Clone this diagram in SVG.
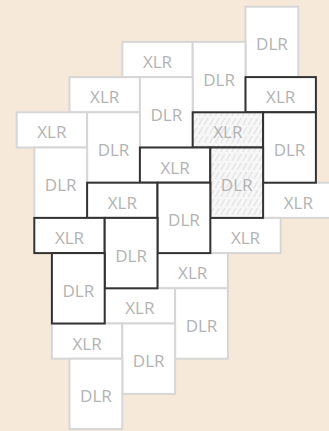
<svg xmlns="http://www.w3.org/2000/svg" width="329" height="431" viewBox="0 0 329 431">
<defs>
<pattern id="hatch" patternUnits="userSpaceOnUse" width="5.5" height="9">
<rect width="5.5" height="9" fill="#f7f7f7"/>
<path d="M0.7,8 L4.8,1" stroke="#dedede" stroke-width="1"/>
</pattern>
</defs>
<style>
.l{fill:#fff;stroke:#d6d6d6;stroke-width:2}
.d{fill:#fff;stroke:#333;stroke-width:2}
.h{fill:url(#hatch);stroke:#333;stroke-width:2}
text{font-family:"Open Sans","Liberation Sans",sans-serif;font-size:17px;fill:#b3b3b3;text-anchor:middle}
</style>
<rect width="329" height="431" fill="#f7e9da"/>
<g id="connectors"/>
<g id="n1"><rect class="l" x="245.5" y="6.7" width="52.8" height="70.4"/><text x="271.9" y="50.3">DLR</text></g>
<g id="n2"><rect class="l" x="122.3" y="41.9" width="70.4" height="35.2"/><text x="157.5" y="67.9">XLR</text></g>
<g id="n3"><rect class="l" x="192.7" y="41.9" width="52.8" height="70.4"/><text x="219.1" y="85.5">DLR</text></g>
<g id="n4"><rect class="l" x="69.5" y="77.1" width="70.4" height="35.2"/><text x="104.7" y="103.1">XLR</text></g>
<g id="n5"><rect class="l" x="139.9" y="77.1" width="52.8" height="70.4"/><text x="166.3" y="120.7">DLR</text></g>
<g id="n7"><rect class="l" x="16.7" y="112.3" width="70.4" height="35.2"/><text x="51.9" y="138.3">XLR</text></g>
<g id="n8"><rect class="l" x="87.1" y="112.3" width="52.8" height="70.4"/><text x="113.5" y="155.9">DLR</text></g>
<g id="n11"><rect class="l" x="34.3" y="147.5" width="52.8" height="70.4"/><text x="60.7" y="191.1">DLR</text></g>
<g id="n16"><rect class="l" x="263.1" y="182.7" width="70.4" height="35.2"/><text x="298.3" y="208.7">XLR</text></g>
<g id="n19"><rect class="l" x="210.3" y="217.9" width="70.4" height="35.2"/><text x="245.5" y="243.9">XLR</text></g>
<g id="n21"><rect class="l" x="157.5" y="253.1" width="70.4" height="35.2"/><text x="192.7" y="279.1">XLR</text></g>
<g id="n22"><rect class="l" x="104.7" y="288.3" width="70.4" height="35.2"/><text x="139.9" y="314.3">XLR</text></g>
<g id="n23"><rect class="l" x="175.1" y="288.3" width="52.8" height="70.4"/><text x="201.5" y="331.9">DLR</text></g>
<g id="n24"><rect class="l" x="51.9" y="323.5" width="70.4" height="35.2"/><text x="87.1" y="349.5">XLR</text></g>
<g id="n25"><rect class="l" x="122.3" y="323.5" width="52.8" height="70.4"/><text x="148.7" y="367.1">DLR</text></g>
<g id="n26"><rect class="l" x="69.5" y="358.7" width="52.8" height="70.4"/><text x="95.9" y="402.3">DLR</text></g>
<g id="n6"><rect class="d" x="245.5" y="77.1" width="70.4" height="35.2"/><text x="280.7" y="103.1">XLR</text></g>
<g id="n9"><rect class="h" x="192.7" y="112.3" width="70.4" height="35.2"/><text x="227.9" y="138.3">XLR</text></g>
<g id="n10"><rect class="d" x="263.1" y="112.3" width="52.8" height="70.4"/><text x="289.5" y="155.9">DLR</text></g>
<g id="n12"><rect class="d" x="139.9" y="147.5" width="70.4" height="35.2"/><text x="175.1" y="173.5">XLR</text></g>
<g id="n13"><rect class="h" x="210.3" y="147.5" width="52.8" height="70.4"/><text x="236.7" y="191.1">DLR</text></g>
<g id="n14"><rect class="d" x="87.1" y="182.7" width="70.4" height="35.2"/><text x="122.3" y="208.7">XLR</text></g>
<g id="n15"><rect class="d" x="157.5" y="182.7" width="52.8" height="70.4"/><text x="183.9" y="226.3">DLR</text></g>
<g id="n17"><rect class="d" x="34.3" y="217.9" width="70.4" height="35.2"/><text x="69.5" y="243.9">XLR</text></g>
<g id="n18"><rect class="d" x="104.7" y="217.9" width="52.8" height="70.4"/><text x="131.1" y="261.5">DLR</text></g>
<g id="n20"><rect class="d" x="51.9" y="253.1" width="52.8" height="70.4"/><text x="78.3" y="296.7">DLR</text></g>
</svg>
